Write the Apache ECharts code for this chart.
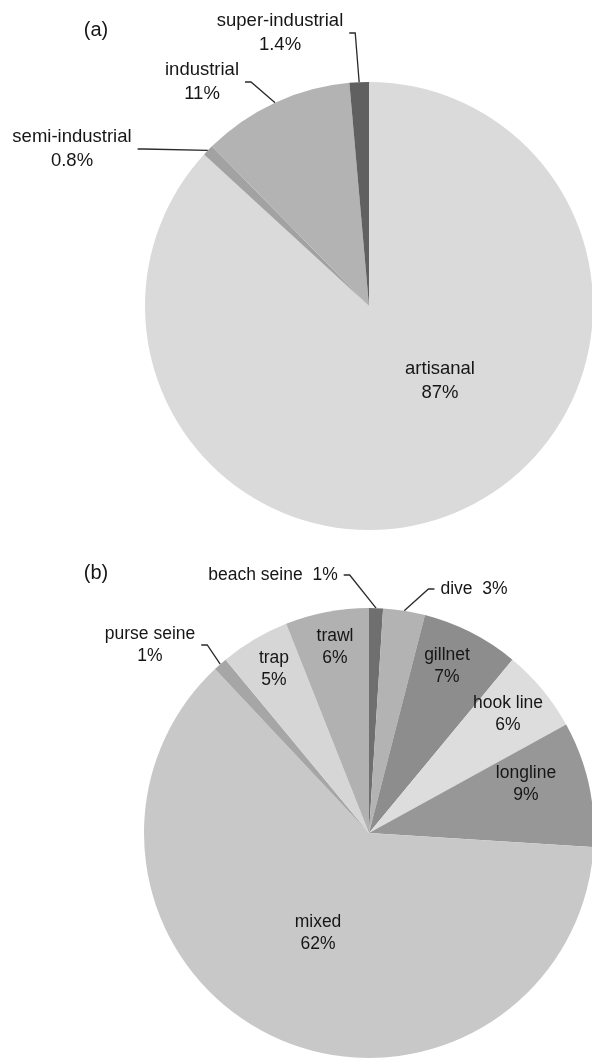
<!DOCTYPE html>
<html>
<head>
<meta charset="utf-8">
<script src="https://cdn.jsdelivr.net/npm/echarts@6/dist/echarts.min.js"></script>
<style>
  html, body { margin: 0; padding: 0; background: #ffffff; }
  #chart { width: 592px; height: 1059px; }
</style>
</head>
<body>
<div id="chart"></div>
<script>
// Panel (a): catch share by fleet sector (%)
const sectorNames = ['artisanal', 'semi-industrial', 'industrial', 'super-industrial'];
const sectorShares = [87, 0.8, 11, 1.4];

// Panel (b): catch share by gear type (%)
const gearNames = ['beach seine', 'dive', 'gillnet', 'hook line', 'longline', 'mixed', 'purse seine', 'trap', 'trawl'];
const gearShares = [1, 3, 7, 6, 9, 62, 1, 5, 6];

const panelTags = ['(a)', '(b)'];

// ---- styling ----
const FONT = '"Liberation Sans", Arial, sans-serif';
const TEXT = '#161616';

const sectorColors = ['#dadada', '#a2a2a2', '#b3b3b3', '#606060'];
const gearColors = ['#6f6f6f', '#b3b3b3', '#8d8d8d', '#dddddd', '#979797', '#c8c8c8', '#a6a6a6', '#d6d6d6', '#b1b1b1'];

// label placement: [centre x, centre y, leader line?, single line?]
const sectorLabelPlace = [
  [440, 381, false, false],
  [72, 149, true, false],
  [202, 82, true, false],
  [280, 33, true, false]
];
const gearLabelPlace = [
  [273, 575, true, true],
  [474, 589, true, true],
  [447, 666, false, false],
  [508, 714, false, false],
  [526, 784, false, false],
  [318, 933, false, false],
  [150, 645, true, false],
  [274, 669, false, false],
  [335, 647, false, false]
];

function buildData(names, values, colors, place) {
  return names.map((n, i) => ({
    name: n,
    value: values[i],
    itemStyle: { color: colors[i] },
    label: { position: place[i][2] ? 'outside' : 'inside' },
    labelLine: { show: place[i][2] }
  }));
}

function pieSeries(names, values, colors, place, center, radius, fontSize, lineHeight) {
  return {
    type: 'pie',
    center: center,
    radius: radius,
    startAngle: 90,
    clockwise: true,
    avoidLabelOverlap: false,
    silent: true,
    data: buildData(names, values, colors, place),
    itemStyle: { borderWidth: 0 },
    label: {
      show: true,
      color: TEXT,
      fontFamily: FONT,
      fontSize: fontSize,
      lineHeight: lineHeight,
      align: 'center',
      padding: [0, 6],
      formatter: p => p.name + (place[p.dataIndex][3] ? '  ' : '\n') + p.value + '%'
    },
    labelLine: {
      length: 10,
      length2: 6,
      minTurnAngle: 60,
      lineStyle: { color: '#2a2a2a', width: 1.3 }
    },
    labelLayout: p => ({
      x: place[p.dataIndex][0],
      y: place[p.dataIndex][1],
      align: 'center',
      verticalAlign: 'middle',
      hideOverlap: false
    })
  };
}

const chart = echarts.init(document.getElementById('chart'), null, { renderer: 'canvas' });

chart.setOption({
  backgroundColor: '#ffffff',
  animation: false,
  graphic: panelTags.map((t, i) => ({
    type: 'text',
    x: 96,
    y: i === 0 ? 30 : 573,
    style: {
      text: t,
      fill: TEXT,
      font: '20px ' + FONT,
      align: 'center',
      verticalAlign: 'middle'
    }
  })),
  series: [
    pieSeries(sectorNames, sectorShares, sectorColors, sectorLabelPlace, [369, 306], 224, 18.5, 24),
    pieSeries(gearNames, gearShares, gearColors, gearLabelPlace, [369, 833], 225, 17.5, 22)
  ]
});
</script>
</body>
</html>
